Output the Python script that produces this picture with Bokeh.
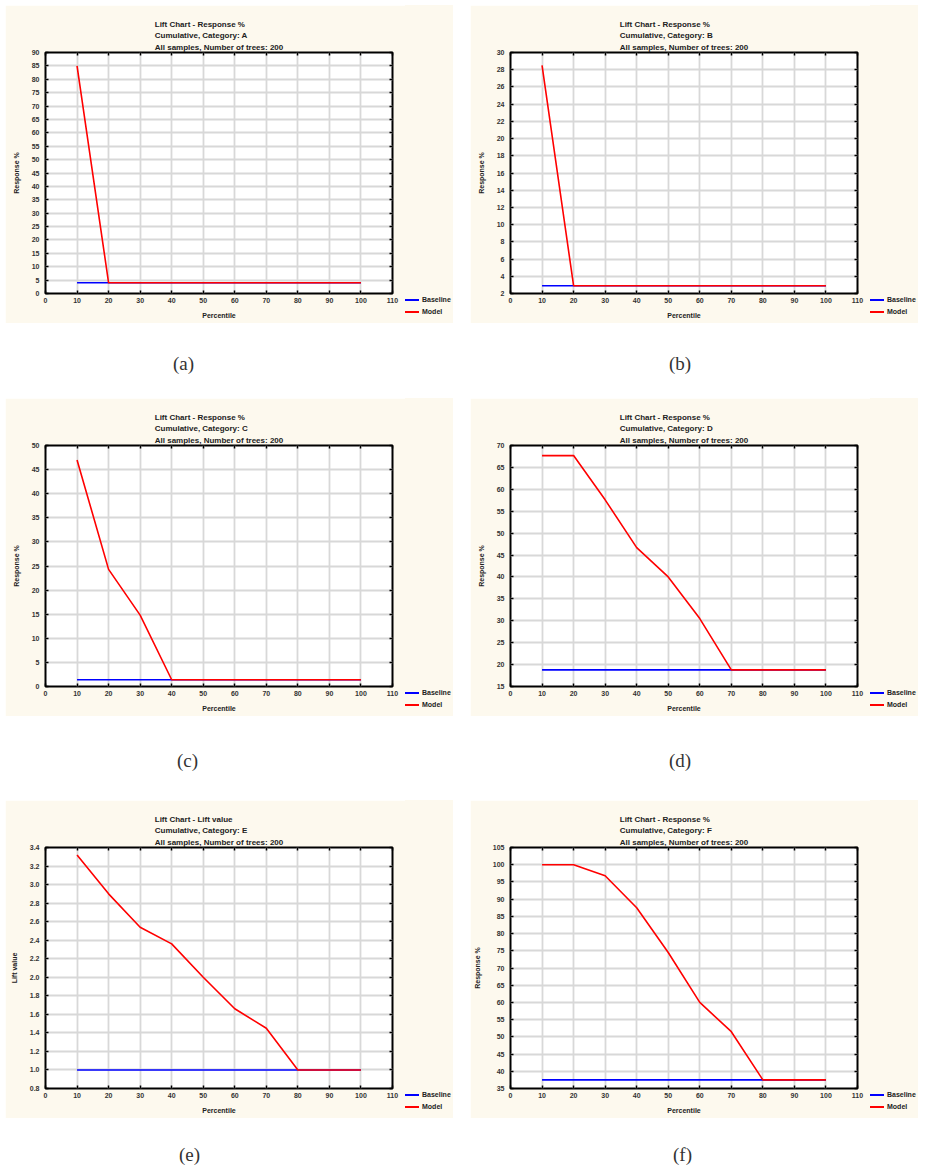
from bokeh.plotting import figure
from bokeh.layouts import column, row
from bokeh.models import Div, LinearAxis, FixedTicker, Range1d
from bokeh.embed import file_html
from bokeh.resources import INLINE

# ---------------- data ----------------
percentile = [10, 20, 30, 40, 50, 60, 70, 80, 90, 100]
x_ticks = [0, 10, 20, 30, 40, 50, 60, 70, 80, 90, 100, 110]

a_model = [85, 4, 4, 4, 4, 4, 4, 4, 4, 4]
a_baseline = [4, 4, 4, 4, 4, 4, 4, 4, 4, 4]
a_yticks = [0, 5, 10, 15, 20, 25, 30, 35, 40, 45, 50, 55, 60, 65, 70, 75, 80, 85, 90]

b_model = [28.5, 2.9, 2.9, 2.9, 2.9, 2.9, 2.9, 2.9, 2.9, 2.9]
b_baseline = [2.9, 2.9, 2.9, 2.9, 2.9, 2.9, 2.9, 2.9, 2.9, 2.9]
b_yticks = [2, 4, 6, 8, 10, 12, 14, 16, 18, 20, 22, 24, 26, 28, 30]

c_model = [47, 24.3, 14.8, 1.4, 1.4, 1.4, 1.4, 1.4, 1.4, 1.4]
c_baseline = [1.4, 1.4, 1.4, 1.4, 1.4, 1.4, 1.4, 1.4, 1.4, 1.4]
c_yticks = [0, 5, 10, 15, 20, 25, 30, 35, 40, 45, 50]

d_model = [67.7, 67.7, 57.6, 46.7, 40.0, 30.5, 18.8, 18.8, 18.8, 18.8]
d_baseline = [18.8, 18.8, 18.8, 18.8, 18.8, 18.8, 18.8, 18.8, 18.8, 18.8]
d_yticks = [15, 20, 25, 30, 35, 40, 45, 50, 55, 60, 65, 70]

e_model = [3.32, 2.9, 2.54, 2.36, 2.0, 1.66, 1.45, 1.0, 1.0, 1.0]
e_baseline = [1.0, 1.0, 1.0, 1.0, 1.0, 1.0, 1.0, 1.0, 1.0, 1.0]
e_yticks = [0.8, 1.0, 1.2, 1.4, 1.6, 1.8, 2.0, 2.2, 2.4, 2.6, 2.8, 3.0, 3.2, 3.4]

f_model = [100, 100, 96.8, 87.5, 74.5, 60, 51.5, 37.5, 37.5, 37.5]
f_baseline = [37.5, 37.5, 37.5, 37.5, 37.5, 37.5, 37.5, 37.5, 37.5, 37.5]
f_yticks = [35, 40, 45, 50, 55, 60, 65, 70, 75, 80, 85, 90, 95, 100, 105]

legend_labels = ["Baseline", "Model"]
trees_line = "All samples, Number of trees: 200"

CREAM = "#fdf9ee"
FONT = "Liberation Sans"
BLUE = "#0000ff"
RED = "#ff0000"
W_MAIN = 400
W_LEG = 48
H = 318


def legend_div():
    rows = ""
    for lab, col in zip(legend_labels, [BLUE, RED]):
        rows += ('<div style="height:12px;line-height:12px;white-space:nowrap;">'
                 '<span style="display:inline-block;width:14px;height:2px;background:%s;'
                 'vertical-align:middle;margin-right:3px;"></span>%s</div>' % (col, lab))
    html = ('<div style="padding-top:289px;font-family:\'Liberation Sans\',sans-serif;'
            'font-size:7px;font-weight:bold;color:#222;">%s</div>' % rows)
    return Div(text=html, width=W_LEG, height=H, margin=0,
               styles={"background-color": CREAM, "overflow": "hidden"})


def panel(title1, title2, ylabel, yticks, model, base, fmt):
    p = figure(width=W_MAIN, height=H, x_range=Range1d(0, 110),
               y_range=Range1d(yticks[0], yticks[-1]),
               output_backend="svg", toolbar_location=None,
               min_border_left=40, min_border_right=W_MAIN - 40 - 347,
               min_border_top=47, min_border_bottom=30,
               background_fill_color="white", border_fill_color=CREAM)
    p.title.text = title1 + "\n" + title2 + "\n" + trees_line
    p.title.align = "center"
    p.title.text_font = FONT
    p.title.text_font_size = "8px"
    p.title.text_font_style = "bold"
    p.title.text_color = "#222222"
    p.title.text_line_height = 1.25
    p.title.offset = 18
    p.title.standoff = 2

    p.outline_line_color = "black"
    p.outline_line_width = 2
    p.outline_line_alpha = 1

    for ax in (p.xaxis[0], p.yaxis[0]):
        ax.axis_line_color = None
        ax.major_tick_in = 3
        ax.major_tick_out = 0
        ax.minor_tick_out = 0
        ax.minor_tick_in = 0
        ax.major_tick_line_color = "black"
        ax.major_tick_line_width = 1.5
        ax.major_label_text_font = FONT
        ax.major_label_text_font_size = "7px"
        ax.major_label_text_font_style = "bold"
        ax.major_label_text_color = "#333333"
        ax.axis_label_text_font = FONT
        ax.axis_label_text_font_size = "7px"
        ax.axis_label_text_font_style = "bold"
        ax.axis_label_text_color = "#222222"

    p.xaxis.ticker = FixedTicker(ticks=x_ticks)
    p.xaxis.axis_label = "Percentile"
    p.xaxis.major_label_standoff = 4
    p.xaxis.axis_label_standoff = 6
    p.yaxis.ticker = FixedTicker(ticks=yticks)
    p.yaxis.axis_label = ylabel
    p.yaxis.major_label_standoff = 6
    p.yaxis.axis_label_standoff = 9
    if fmt:
        p.yaxis.major_label_overrides = {t: fmt.format(t) for t in yticks}

    top = LinearAxis(ticker=FixedTicker(ticks=x_ticks), major_label_text_font_size="1px",
                     major_label_text_color=None,
                     axis_line_color=None, major_tick_in=3, major_tick_out=0,
                     minor_tick_in=0, minor_tick_out=0, major_tick_line_width=1.5)
    right = LinearAxis(ticker=FixedTicker(ticks=yticks), major_label_text_font_size="1px",
                       major_label_text_color=None,
                       axis_line_color=None, major_tick_in=3, major_tick_out=0,
                       minor_tick_in=0, minor_tick_out=0, major_tick_line_width=1.5)
    p.add_layout(top, "above")
    p.add_layout(right, "right")

    p.xgrid.ticker = FixedTicker(ticks=x_ticks)
    p.ygrid.ticker = FixedTicker(ticks=yticks)
    for g in (p.xgrid[0], p.ygrid[0]):
        g.grid_line_color = "#d8d8d8"
        g.grid_line_width = 1.8

    p.line(percentile, base, line_color=BLUE, line_width=1.6)
    p.line(percentile, model, line_color=RED, line_width=1.6)
    return row(p, legend_div(), spacing=0)


def caption(txt, left, top, h):
    return Div(text=('<div style="font-family:\'Liberation Serif\',serif;font-size:19px;'
                     'line-height:22px;color:#333;padding-left:%dpx;padding-top:%dpx;">%s</div>'
                     % (left, top, txt)),
               width=W_MAIN + W_LEG, height=h, margin=0)


pa = panel("Lift Chart - Response %", "Cumulative, Category: A", "Response %", a_yticks, a_model, a_baseline, None)
pb = panel("Lift Chart - Response %", "Cumulative, Category: B", "Response %", b_yticks, b_model, b_baseline, None)
pc = panel("Lift Chart - Response %", "Cumulative, Category: C", "Response %", c_yticks, c_model, c_baseline, None)
pd_ = panel("Lift Chart - Response %", "Cumulative, Category: D", "Response %", d_yticks, d_model, d_baseline, None)
pe = panel("Lift Chart - Lift value", "Cumulative, Category: E", "Lift value", e_yticks, e_model, e_baseline, "{:.1f}")
pf = panel("Lift Chart - Response %", "Cumulative, Category: F", "Response %", f_yticks, f_model, f_baseline, None)

layout = column(
    row(column(pa, caption("(a)", 168, 30, 75)), column(pb, caption("(b)", 199, 30, 75)), spacing=17),
    row(column(pc, caption("(c)", 172, 34, 84)), column(pd_, caption("(d)", 199, 34, 84)), spacing=17),
    row(column(pe, caption("(e)", 174, 26, 50)), column(pf, caption("(f)", 203, 26, 50)), spacing=17),
)
layout.margin = (5, 0, 0, 5)

open("out.html", "w").write(file_html(layout, INLINE))
